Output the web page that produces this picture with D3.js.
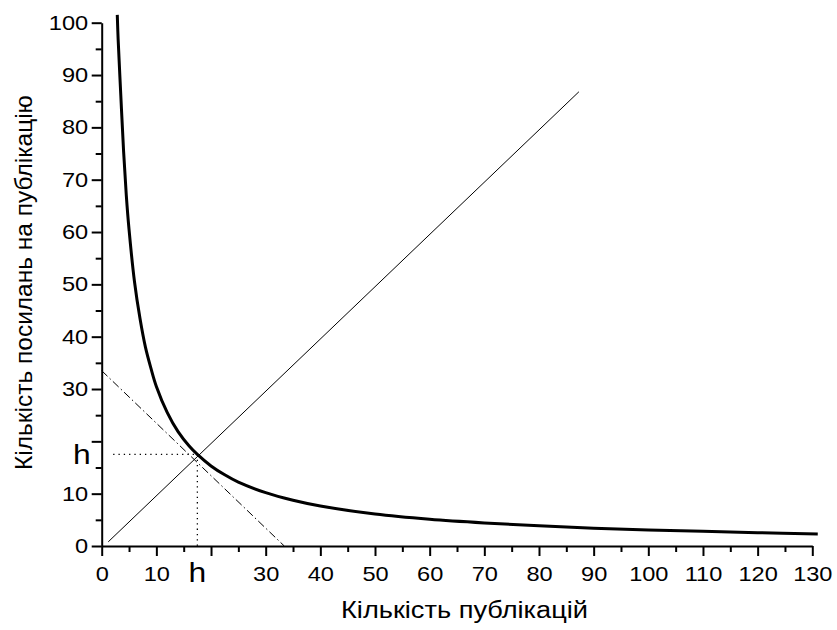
<!DOCTYPE html>
<html>
<head>
<meta charset="utf-8">
<script src="https://cdn.jsdelivr.net/npm/d3@7"></script>
<style>
  body { margin: 0; background: #fff; }
  text { font-family: "Liberation Sans", Arial, sans-serif; fill: #000; }
</style>
</head>
<body>
<svg id="chart"></svg>
<script>
// values
var hIndex = 17.5;
var curvePoints = [
    [2.85, 101.5], [3, 97], [3.5, 86], [4, 75.5], [4.5, 67], [5, 60.5], [6, 50.5],
    [7, 43.5], [8, 38], [9, 34], [10, 30.5], [12, 25.5], [14, 21.8], [16, 19.1],
    [17.5, 17.5], [20, 15.3], [22.5, 13.6], [25, 12.2], [30, 10.2], [35, 8.75],
    [40, 7.65], [50, 6.1], [60, 5.1], [70, 4.4], [80, 3.85], [90, 3.4], [100, 3.05],
    [110, 2.8], [120, 2.55], [131, 2.3]
];
var diagonalPoints = [[1.2, 0.8], [87.3, 86.8]];
var tangentPoints = [[0, 33.5], [33.4, 0]];
var xMajorTicks = [0, 10, 20, 30, 40, 50, 60, 70, 80, 90, 100, 110, 120, 130];
var xMinorTicks = [5, 15, 25, 35, 45, 55, 65, 75, 85, 95, 105, 115, 125];
var yMajorTicks = [0, 10, 20, 30, 40, 50, 60, 70, 80, 90, 100];
var yMinorTicks = [5, 15, 25, 35, 45, 55, 65, 75, 85, 95];
var xTitle = "Кількість публікацій";
var yTitle = "Кількість посилань на публікацію";

var stretch = 1.18; // the labels in the picture are a bit wide

var svg = d3.select("#chart")
    .attr("width", 837)
    .attr("height", 630);

var x = d3.scaleLinear().domain([0, 130]).range([101.7, 812.3]);
var y = d3.scaleLinear().domain([0, 100]).range([546, 22.7]);

// x axis
svg.append("g")
    .attr("transform", "translate(0," + y(0) + ")")
    .call(d3.axisBottom(x).tickValues(xMinorTicks).tickSize(6).tickSizeOuter(0).tickFormat(""))
    .call(g => g.select(".domain").remove());
var xAxisMajor = svg.append("g")
    .attr("transform", "translate(0," + y(0) + ")")
    .call(d3.axisBottom(x).tickValues(xMajorTicks).tickSize(10).tickSizeOuter(0).tickPadding(11)
        .tickFormat(d => d === 20 ? "" : d));
xAxisMajor.selectAll("text")
    .attr("font-size", 20)
    .attr("font-family", null)
    .attr("transform", "scale(" + stretch + ",1)");

// y axis
svg.append("g")
    .attr("transform", "translate(" + x(0) + ",0)")
    .call(d3.axisLeft(y).tickValues(yMinorTicks).tickSize(6).tickSizeOuter(0).tickFormat(""))
    .call(g => g.select(".domain").remove());
var yAxisMajor = svg.append("g")
    .attr("transform", "translate(" + x(0) + ",0)")
    .call(d3.axisLeft(y).tickValues(yMajorTicks).tickSize(10).tickSizeOuter(0).tickPadding(3)
        .tickFormat(d => d === 20 ? "" : d));
yAxisMajor.selectAll("text")
    .attr("font-size", 20)
    .attr("font-family", null)
    .attr("x", -13.5 / stretch)
    .attr("transform", "scale(" + stretch + ",1)");

svg.selectAll(".domain, .tick line")
    .attr("stroke", "#000")
    .attr("stroke-width", 2);

// h labels
svg.append("text")
    .attr("transform", "translate(" + x(hIndex) + ",581.5) scale(" + stretch + ",1)")
    .attr("text-anchor", "middle")
    .attr("font-size", 27)
    .text("h");
svg.append("text")
    .attr("transform", "translate(" + (x(0) - 11) + "," + y(hIndex) + ") scale(" + stretch + ",1)")
    .attr("dy", "0.37em")
    .attr("text-anchor", "end")
    .attr("font-size", 27)
    .text("h");

var line = d3.line().x(d => x(d[0])).y(d => y(d[1]));

// dotted guides
svg.append("path")
    .attr("d", line([[2.1, hIndex], [hIndex, hIndex]]))
    .attr("fill", "none")
    .attr("stroke", "#000")
    .attr("stroke-width", 1.3)
    .attr("stroke-dasharray", "1.3,4");
svg.append("path")
    .attr("d", line([[hIndex, hIndex], [hIndex, 0]]))
    .attr("fill", "none")
    .attr("stroke", "#000")
    .attr("stroke-width", 1.3)
    .attr("stroke-dasharray", "1.3,4");

// y = x
svg.append("path")
    .attr("d", line(diagonalPoints))
    .attr("fill", "none")
    .attr("stroke", "#000")
    .attr("stroke-width", 1);

// dash-dot tangent
svg.append("path")
    .attr("d", line(tangentPoints))
    .attr("fill", "none")
    .attr("stroke", "#000")
    .attr("stroke-width", 1)
    .attr("stroke-dasharray", "8,3,1.5,3");

// citation curve
svg.append("path")
    .attr("d", line.curve(d3.curveCatmullRom.alpha(0.5))(curvePoints))
    .attr("fill", "none")
    .attr("stroke", "#000")
    .attr("stroke-width", 3);

// titles
svg.append("text")
    .attr("x", 464.5)
    .attr("y", 618)
    .attr("text-anchor", "middle")
    .attr("font-size", 23)
    .attr("textLength", 247)
    .attr("lengthAdjust", "spacingAndGlyphs")
    .text(xTitle);
svg.append("text")
    .attr("transform", "translate(31.5,282.5) rotate(-90)")
    .attr("text-anchor", "middle")
    .attr("font-size", 23)
    .attr("textLength", 375)
    .attr("lengthAdjust", "spacingAndGlyphs")
    .text(yTitle);
</script>
</body>
</html>
